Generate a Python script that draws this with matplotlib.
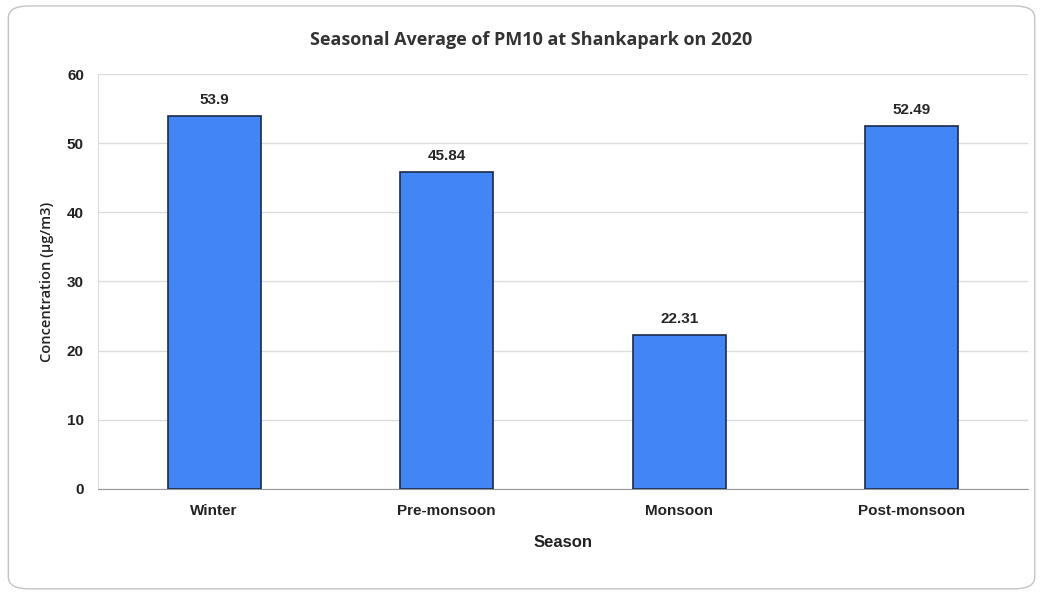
import matplotlib.pyplot as plt
from matplotlib.patches import FancyBboxPatch

seasons = ["Winter", "Pre-monsoon", "Monsoon", "Post-monsoon"]
pm10 = [53.9, 45.84, 22.31, 52.49]
value_labels = ["53.9", "45.84", "22.31", "52.49"]
yticks = [0, 10, 20, 30, 40, 50, 60]

plt.rcParams['font.family'] = ['Liberation Sans', 'DejaVu Sans']

fig = plt.figure(figsize=(10.41, 5.93), dpi=100)
ax = fig.add_axes([0.094, 0.1754, 0.8935, 0.6998])

# rounded outer frame
frame = FancyBboxPatch((0.008, 0.007), 0.986, 0.983,
                       boxstyle="round,pad=0,rounding_size=0.02",
                       transform=fig.transFigure, facecolor="white",
                       edgecolor="#c4c4c4", linewidth=1.0, zorder=-10)
fig.patches.append(frame)

x = range(len(seasons))
ax.bar(x, pm10, width=0.4, color="#4285f4", edgecolor="#1c2a4a",
       linewidth=1.2, zorder=3)

for i, (v, lab) in enumerate(zip(pm10, value_labels)):
    ax.text(i, v + 1.3, lab, ha="center", va="bottom", fontsize=11,
            fontweight="bold", color="#262626")

ax.set_xlim(-0.5, 3.5)
ax.set_ylim(0, 60)
ax.set_yticks(yticks)
ax.set_xticks(list(x))
ax.set_xticklabels(seasons)
ax.grid(axis="y", color="#dcdcdc", linewidth=1.0, zorder=0)
ax.tick_params(axis="x", length=0, labelsize=11, colors="#222222", pad=11)
ax.tick_params(axis="y", length=0, labelsize=11, colors="#222222", pad=10)
for lab in ax.get_xticklabels() + ax.get_yticklabels():
    lab.set_fontweight("bold")

for s in ["top", "right"]:
    ax.spines[s].set_visible(False)
ax.spines["left"].set_color("#dcdcdc")
ax.spines["bottom"].set_color("#999999")

ax.set_xlabel("Season", fontsize=12, fontweight="bold", color="#222222", labelpad=12)
ax.set_ylabel("Concentration (μg/m3)", fontsize=10.5, color="#222222",
              fontweight="semibold", family=["Open Sans", "DejaVu Sans"],
              labelpad=9)
fig.text(0.51, 0.932, "Seasonal Average of PM10 at Shankapark on 2020",
         ha="center", va="center", fontsize=13, fontweight="bold",
         color="#333333", family=["Open Sans", "DejaVu Sans"])

fig.savefig("out.png", dpi=100)
